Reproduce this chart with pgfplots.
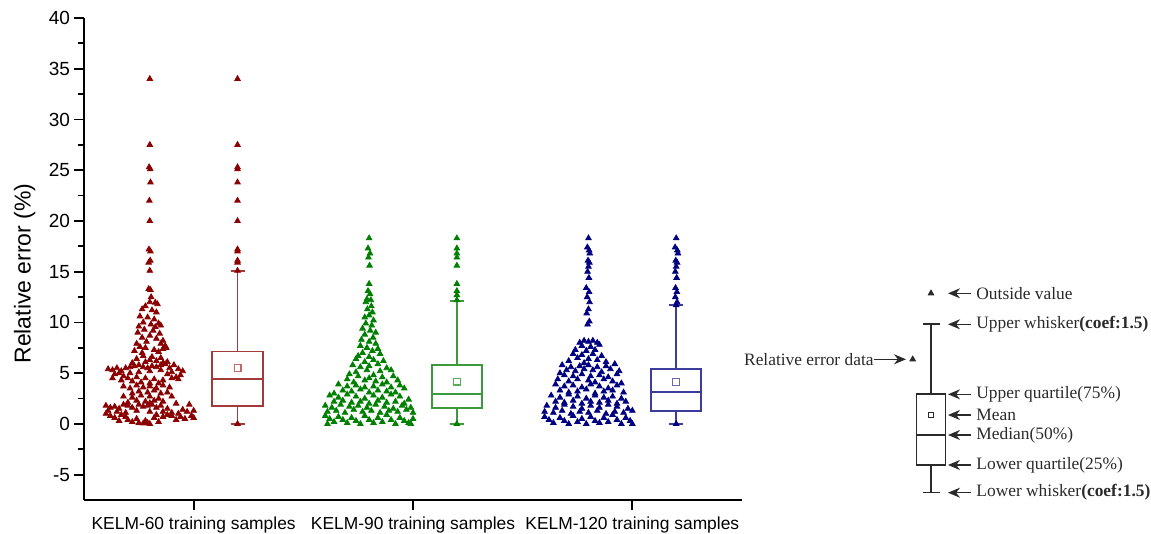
\documentclass[border=0pt]{standalone}
\usepackage{fontspec}
\setmainfont{Liberation Sans}
\newfontfamily\seriffont{Liberation Serif}
\usepackage{pgfplots}
\pgfplotsset{compat=1.18}
\usepackage{pgfplotstable}
\usepgfplotslibrary{statistics}
\usetikzlibrary{arrows.meta}

\definecolor{rA}{HTML}{8B0000}\definecolor{rB}{HTML}{A33A3A}\definecolor{rM}{HTML}{C06A6A}
\definecolor{gA}{HTML}{008000}\definecolor{gB}{HTML}{3C9A3C}\definecolor{gM}{HTML}{5AAA5A}
\definecolor{bA}{HTML}{000080}\definecolor{bB}{HTML}{3C3C9C}\definecolor{bM}{HTML}{6A6AB0}
\definecolor{lg}{HTML}{2A2A2A}

% KELM-60 scatter (dx relative to scatter column, relative error %)
\pgfplotstableread[row sep=\\]{dx y\\
0 34.0\\ 0 27.5\\ -0.003 25.3\\ 0.002 25.1\\ 0.003 23.8\\ -0.002 22.0\\ 0 20.0\\ -0.004 17.2\\ 0.003 17.0\\ 0.002 16.1\\ -0.005 15.9\\ 0 15.1\\
-0.005 13.3\\ 0.003 13.2\\ 0.006 12.5\\
0 12.0\\ 0.025 11.95\\ 0.035 11.8\\ -0.02 11.6\\ -0.035 11.3\\ 0.01 11.2\\ 0.03 11.0\\
-0.045 10.6\\ -0.01 10.5\\ 0.02 10.3\\ -0.03 10.0\\ 0.04 9.9\\ 0.005 9.8\\ -0.05 9.6\\ 0.025 9.55\\ 0.05 9.7\\
-0.025 9.3\\ 0.015 9.2\\ -0.055 9.0\\ 0.045 8.9\\ 0 8.7\\ -0.035 8.5\\ 0.03 8.4\\ 0.06 8.2\\ -0.015 8.1\\ 0.05 7.9\\
-0.06 7.9\\ -0.045 7.6\\ 0.07 7.7\\ 0.06 7.4\\ -0.02 7.5\\ 0.02 7.3\\ -0.07 7.2\\ 0.04 7.1\\ -0.035 7.0\\ 0.075 7.5\\
-0.03 6.7\\ 0.01 6.6\\ 0.05 6.5\\ -0.06 6.4\\ 0 6.3\\ 0.03 6.2\\ -0.02 6.1\\ 0.08 6.1\\ -0.08 6.0\\ 0.06 6.0\\
-0.19 5.4\\ -0.17 5.3\\ -0.15 5.5\\ -0.13 5.2\\ -0.11 5.5\\ -0.09 5.6\\ -0.07 5.7\\ -0.05 5.8\\ -0.03 5.6\\ -0.01 5.5\\ 0.01 5.7\\ 0.03 5.6\\ 0.05 5.8\\ 0.07 5.9\\ 0.09 5.5\\ 0.11 5.8\\ 0.13 5.4\\ 0.15 5.2\\ 0.14 4.8\\ -0.16 4.9\\ -0.12 4.7\\ -0.14 5.0\\ 0.10 5.1\\ 0.12 4.6\\ 0 5.2\\ -0.05 5.1\\ 0.05 5.3\\ -0.09 5.0\\ 0.08 4.9\\
-0.17 4.5\\ -0.13 4.3\\ -0.1 4.5\\ -0.06 4.6\\ -0.02 4.5\\ 0.02 4.4\\ 0.06 4.3\\ 0.10 4.5\\ 0.13 4.4\\ -0.04 4.1\\ 0 4.0\\ 0.04 4.0\\ -0.08 4.2\\
-0.12 3.7\\ -0.09 3.5\\ -0.06 3.8\\ -0.03 3.6\\ 0 3.7\\ 0.03 3.5\\ 0.06 3.8\\ 0.09 3.6\\ -0.05 3.2\\ -0.01 3.1\\ 0.02 3.3\\ 0.05 3.0\\ -0.08 3.0\\ 0.08 3.1\\
-0.12 2.7\\ -0.08 2.6\\ -0.04 2.8\\ 0 2.7\\ 0.04 2.5\\ 0.1 2.7\\ -0.06 2.3\\ -0.02 2.2\\ 0.02 2.3\\ 0.06 2.2\\ -0.1 2.1\\ 0.12 2.0\\ 0 2.05\\
-0.2 1.8\\ -0.18 1.6\\ -0.16 1.7\\ -0.14 1.5\\ -0.12 1.9\\ -0.1 1.8\\ -0.08 1.6\\ -0.05 1.9\\ -0.03 1.7\\ -0.01 1.8\\ 0.01 1.9\\ 0.03 1.6\\ 0.05 1.8\\ 0.08 1.5\\ 0.15 1.4\\ 0.18 1.9\\ 0.2 1.3\\ -0.19 1.3\\ -0.15 1.2\\ -0.11 1.1\\ 0.06 1.2\\ 0.1 1.1\\ 0.13 1.0\\ 0.17 1.2\\ -0.06 1.3\\ 0 1.2\\
-0.2 1.0\\ -0.18 0.8\\ -0.16 0.6\\ -0.13 0.9\\ -0.1 0.4\\ -0.08 0.2\\ -0.06 0.5\\ -0.05 0.1\\ -0.03 0.05\\ -0.02 0.3\\ -0.01 0.1\\ 0.02 0.6\\ 0.04 0.2\\ 0.06 0.7\\ 0.08 0.9\\ 0.1 0.8\\ 0.12 0.4\\ 0.14 0.7\\ 0.16 0.5\\ 0.19 0.8\\ 0.2 0.6\\ -0.14 0.3\\ 0 0.0\\ 0.03 0.9\\ -0.11 0.7\\
}\groupA

% KELM-90 scatter
\pgfplotstableread[row sep=\\]{dx y\\
0 18.3\\ -0.005 17.3\\ 0.004 16.8\\ -0.003 16.4\\ 0.002 15.6\\ 0 13.8\\ -0.005 13.1\\ 0.004 12.8\\
-0.01 12.3\\ 0.008 12.2\\ -0.015 12.0\\ 0.01 11.6\\ -0.008 11.3\\ 0.015 11.0\\ 0 10.7\\ -0.02 10.5\\ 0.02 10.2\\
-0.015 9.9\\ 0.012 9.7\\ -0.03 9.4\\ 0.005 9.2\\ 0.03 9.0\\ -0.02 8.8\\ 0.018 8.5\\ -0.035 8.3\\ 0 8.1\\
0.03 7.9\\ -0.04 7.7\\ -0.01 7.5\\ 0.04 7.4\\ 0.015 7.2\\ -0.03 7.0\\ 0.05 6.9\\ -0.05 6.7\\ 0 6.6\\
-0.06 6.4\\ 0.02 6.3\\ -0.02 6.1\\ 0.065 6.2\\ 0.04 5.9\\ -0.075 5.8\\ -0.04 5.6\\ 0 5.7\\ 0.08 5.5\\ -0.01 5.3\\ 0.05 5.2\\ -0.06 5.1\\ 0.1 5.3\\
-0.09 4.9\\ -0.05 4.7\\ 0.02 4.8\\ 0.06 4.6\\ 0.11 4.7\\ -0.1 4.4\\ -0.02 4.3\\ 0.03 4.2\\ 0.08 4.1\\ -0.07 4.1\\ 0.13 4.3\\ 0 4.5\\
-0.14 3.9\\ -0.1 3.7\\ -0.06 3.8\\ -0.02 3.6\\ 0.02 3.7\\ 0.06 3.9\\ 0.1 3.6\\ 0.14 3.8\\ -0.12 3.3\\ -0.08 3.2\\ -0.04 3.4\\ 0 3.1\\ 0.04 3.3\\ 0.08 3.2\\ 0.12 3.1\\ 0.16 3.5\\ -0.16 3.0\\
-0.18 2.8\\ -0.14 2.6\\ -0.1 2.9\\ -0.06 2.7\\ -0.02 2.5\\ 0.02 2.8\\ 0.06 2.6\\ 0.1 2.9\\ 0.14 2.7\\ 0.18 2.4\\ -0.16 2.2\\ -0.12 2.3\\ -0.08 2.1\\ -0.04 2.2\\ 0 2.0\\ 0.04 2.3\\ 0.08 2.1\\ 0.12 2.2\\ 0.16 2.0\\
-0.2 1.8\\ -0.17 1.6\\ -0.13 1.9\\ -0.09 1.7\\ -0.05 1.8\\ -0.01 1.6\\ 0.03 1.9\\ 0.07 1.7\\ 0.11 1.5\\ 0.15 1.8\\ 0.19 1.6\\ -0.19 1.2\\ -0.15 1.3\\ -0.11 1.1\\ -0.07 1.4\\ -0.03 1.2\\ 0.01 1.3\\ 0.05 1.1\\ 0.09 1.3\\ 0.13 1.2\\ 0.17 1.4\\ 0.2 1.1\\
-0.2 0.8\\ -0.18 0.5\\ -0.16 0.2\\ -0.14 0.7\\ -0.12 0.4\\ -0.1 0.1\\ -0.08 0.6\\ -0.06 0.3\\ -0.04 0.0\\ -0.02 0.8\\ 0 0.4\\ 0.02 0.1\\ 0.04 0.6\\ 0.06 0.2\\ 0.08 0.9\\ 0.1 0.4\\ 0.12 0.0\\ 0.14 0.6\\ 0.16 0.3\\ 0.18 0.1\\ 0.2 0.5\\ 0.19 0.0\\ -0.19 0.0\\
}\groupB

% KELM-120 scatter
\pgfplotstableread[row sep=\\]{dx y\\
0 18.3\\ -0.005 17.4\\ 0.003 17.1\\ 0.006 16.8\\ -0.002 16.1\\ 0.004 15.9\\ 0 15.5\\ -0.004 15.0\\ 0.002 14.4\\ -0.01 13.4\\ 0.003 13.0\\ -0.006 12.5\\ 0.005 12.0\\ 0 11.3\\ -0.008 10.9\\ 0.004 10.1\\ -0.004 9.8\\
-0.04 8.0\\ -0.02 8.2\\ 0 8.1\\ 0.02 8.2\\ 0.04 8.0\\ -0.03 7.7\\ 0.01 7.6\\ 0.05 7.8\\ -0.06 7.3\\ -0.01 7.2\\ 0.03 7.3\\
-0.07 6.9\\ -0.03 6.8\\ 0.02 6.9\\ 0.06 6.7\\ -0.05 6.5\\ 0 6.4\\ 0.04 6.3\\ -0.09 6.2\\ 0.08 6.1\\ -0.02 6.0\\
-0.12 5.8\\ -0.08 5.6\\ -0.04 5.7\\ 0 5.8\\ 0.04 5.6\\ 0.08 5.7\\ 0.12 5.9\\ -0.1 5.3\\ -0.06 5.2\\ -0.02 5.4\\ 0.02 5.3\\ 0.06 5.1\\ 0.1 5.4\\ 0.14 5.2\\ -0.13 5.0\\
-0.11 4.8\\ -0.07 4.7\\ -0.03 4.9\\ 0.01 4.7\\ 0.05 4.8\\ 0.09 4.6\\ 0.13 4.9\\ -0.14 4.4\\ -0.09 4.2\\ -0.05 4.4\\ 0 4.3\\ 0.03 4.1\\ 0.07 4.4\\ 0.11 4.2\\ 0.15 4.0\\
-0.15 3.9\\ -0.11 3.7\\ -0.07 3.8\\ -0.03 3.6\\ 0.01 3.9\\ 0.05 3.7\\ 0.09 3.5\\ 0.13 3.8\\ -0.13 3.3\\ -0.09 3.1\\ -0.05 3.2\\ -0.01 3.4\\ 0.03 3.0\\ 0.07 3.2\\ 0.11 3.3\\ 0.16 3.1\\
-0.17 2.8\\ -0.13 2.6\\ -0.09 2.9\\ -0.05 2.7\\ -0.01 2.5\\ 0.03 2.8\\ 0.07 2.6\\ 0.11 2.7\\ 0.15 2.5\\ -0.15 2.2\\ -0.11 2.1\\ -0.07 2.3\\ -0.03 2.0\\ 0.01 2.2\\ 0.05 2.1\\ 0.09 2.3\\ 0.13 2.0\\ 0.17 2.2\\
-0.19 1.8\\ -0.15 1.6\\ -0.11 1.9\\ -0.07 1.7\\ -0.03 1.5\\ 0.01 1.8\\ 0.05 1.6\\ 0.09 1.9\\ 0.13 1.7\\ 0.18 1.5\\ -0.2 1.2\\ -0.16 1.1\\ -0.12 1.3\\ -0.08 1.0\\ -0.04 1.2\\ 0 1.1\\ 0.04 1.3\\ 0.08 1.0\\ 0.12 1.2\\ 0.16 1.1\\ 0.2 1.3\\
-0.2 0.7\\ -0.18 0.4\\ -0.16 0.1\\ -0.13 0.6\\ -0.11 0.3\\ -0.09 0.0\\ -0.07 0.8\\ -0.05 0.2\\ -0.03 0.5\\ -0.01 0.0\\ 0.01 0.7\\ 0.03 0.3\\ 0.05 0.1\\ 0.07 0.6\\ 0.09 0.2\\ 0.11 0.9\\ 0.13 0.4\\ 0.15 0.0\\ 0.17 0.6\\ 0.19 0.3\\ 0.2 0.0\\
}\groupC

\tikzset{keyarrow/.style={-{Stealth[length=6pt,width=5pt]}, line width=0.7pt, draw=lg},
  keytext/.style={inner sep=0pt, text=lg, font=\seriffont\fontsize{8.7}{10}\selectfont}}

\pgfplotsset{
  boxplot/every box/.append style={line width=0.95pt},
  boxplot/every whisker/.append style={line width=0.95pt},
  boxplot/every median/.append style={line width=0.95pt},
}

\begin{document}
\begin{tikzpicture}
\path[use as bounding box] (0,0) rectangle (575.5pt,267pt);
\begin{axis}[
  at={(42pt,17pt)}, anchor=south west, scale only axis,
  width=329pt, height=241pt,
  xmin=-0.5, xmax=2.5, ymin=-7.5, ymax=40,
  axis x line=bottom, axis y line=left,
  axis line style={-, line width=0.9pt, black},
  tick style={black, line width=0.9pt},
  tick align=outside, major tick length=5pt, minor tick length=3pt,
  ytick={-5,0,...,40}, minor y tick num=1,
  xtick={0,1,2},
  xticklabels={KELM-60 training samples, KELM-90 training samples, KELM-120 training samples},
  /pgf/number format/assume math mode=true,
  y tick label style={font=\fontsize{9.5}{11}\selectfont, xshift=1.5pt},
  x tick label style={font=\fontsize{8.7}{10}\selectfont},
  ylabel={Relative error (\%)},
  ylabel style={font=\fontsize{11.5}{13}\selectfont, at={(axis description cs:-0.09,0.47)}, anchor=center},
  boxplot/draw direction=y,
  clip=false,
]
% scatter columns
\addplot[only marks, mark=triangle*, mark size=1.6pt, color=rA] table[x expr=\thisrow{dx}-0.2, y=y] {\groupA};
\addplot[only marks, mark=triangle*, mark size=1.6pt, color=gA] table[x expr=\thisrow{dx}+0.8, y=y] {\groupB};
\addplot[only marks, mark=triangle*, mark size=1.6pt, color=bA] table[x expr=\thisrow{dx}+1.8, y=y] {\groupC};
% box plots
\addplot[draw=rB, line width=0.95pt, solid, boxplot prepared={lower whisker=0, lower quartile=1.76, median=4.46, upper quartile=7.13, upper whisker=15.08, draw position=0.2, box extend=0.23, whisker extend=0.064}] coordinates {};
\addplot[draw=gB, line width=0.95pt, solid, boxplot prepared={lower whisker=0, lower quartile=1.53, median=2.98, upper quartile=5.8, upper whisker=12.15, draw position=1.2, box extend=0.23, whisker extend=0.064}] coordinates {};
\addplot[draw=bB, line width=0.95pt, solid, boxplot prepared={lower whisker=0, lower quartile=1.27, median=3.11, upper quartile=5.41, upper whisker=11.73, draw position=2.2, box extend=0.23, whisker extend=0.064}] coordinates {};
% means
\addplot[only marks, mark=square, mark size=1.7pt, draw=rM, line width=0.6pt] coordinates {(0.2,5.48)};
\addplot[only marks, mark=square, mark size=1.7pt, draw=gM, line width=0.6pt] coordinates {(1.2,4.16)};
\addplot[only marks, mark=square, mark size=1.7pt, draw=bM, line width=0.6pt] coordinates {(2.2,4.10)};
% outside values and extremes at box positions
\addplot[only marks, mark=triangle*, mark size=1.6pt, color=rA] coordinates {(0.2,34.0) (0.2,27.5) (0.2,25.3) (0.2,25.1) (0.2,23.8) (0.2,22.0) (0.2,20.0) (0.2,17.2) (0.2,17.0) (0.2,16.1) (0.2,15.9) (0.2,15.1) (0.2,0)};
\addplot[only marks, mark=triangle*, mark size=1.6pt, color=gA] coordinates {(1.2,18.3) (1.2,17.3) (1.2,16.8) (1.2,16.4) (1.2,15.6) (1.2,13.8) (1.2,13.1) (1.2,12.7) (1.2,12.2) (1.2,0)};
\addplot[only marks, mark=triangle*, mark size=1.6pt, color=bA] coordinates {(2.2,18.3) (2.195,17.4) (2.205,17.1) (2.208,16.8) (2.198,16.1) (2.204,15.9) (2.2,15.5) (2.196,15.0) (2.202,14.4) (2.197,13.4) (2.203,13.0) (2.196,12.5) (2.204,12.0) (2.2,11.7) (2.2,0)};
\end{axis}
% explanatory key
\begin{axis}[
  at={(0pt,0pt)}, anchor=south west, scale only axis,
  width=575.5pt, height=267pt,
  xmin=0, xmax=1151, ymin=0, ymax=534,
  hide axis, clip=false,
  boxplot/draw direction=y,
]
\addplot[draw=lg, line width=0.8pt, solid, boxplot prepared={lower whisker=41.3, lower quartile=69, median=99, upper quartile=139.7, upper whisker=209.7, draw position=931, box extend=29, whisker extend=17},
  boxplot/every box/.append style={line width=0.8pt}, boxplot/every whisker/.append style={line width=0.8pt}, boxplot/every median/.append style={line width=0.8pt}] coordinates {};
\addplot[only marks, mark=square, mark size=1.2pt, draw=lg, line width=0.7pt] coordinates {(931,119)};
\addplot[only marks, mark=triangle*, mark size=1.6pt, color=lg] coordinates {(931,240.7) (912.7,174.7)};
\draw[keyarrow] (axis cs:971,240.7) -- (axis cs:948,240.7);
\node[keytext, anchor=west] at (axis cs:976,240.7) {Outside value};
\draw[keyarrow] (axis cs:971,209.7) -- (axis cs:948,209.7);
\node[keytext, anchor=west] at (axis cs:976,209.7) {Upper whisker\textbf{(coef:1.5)}};
\draw[keyarrow] (axis cs:971,139.7) -- (axis cs:948,139.7);
\node[keytext, anchor=west] at (axis cs:976,139.7) {Upper quartile(75\%)};
\draw[keyarrow] (axis cs:971,119) -- (axis cs:948,119);
\node[keytext, anchor=west] at (axis cs:976,119) {Mean};
\draw[keyarrow] (axis cs:971,99) -- (axis cs:948,99);
\node[keytext, anchor=west] at (axis cs:976,99) {Median(50\%)};
\draw[keyarrow] (axis cs:971,69) -- (axis cs:948,69);
\node[keytext, anchor=west] at (axis cs:976,69) {Lower quartile(25\%)};
\draw[keyarrow] (axis cs:971,41.3) -- (axis cs:948,41.3);
\node[keytext, anchor=west] at (axis cs:976,41.3) {Lower whisker\textbf{(coef:1.5)}};
\node[keytext, anchor=east] at (axis cs:874,174.7) {Relative error data};
\draw[keyarrow] (axis cs:874,174.7) -- (axis cs:906,174.7);
\end{axis}
\end{tikzpicture}
\end{document}
